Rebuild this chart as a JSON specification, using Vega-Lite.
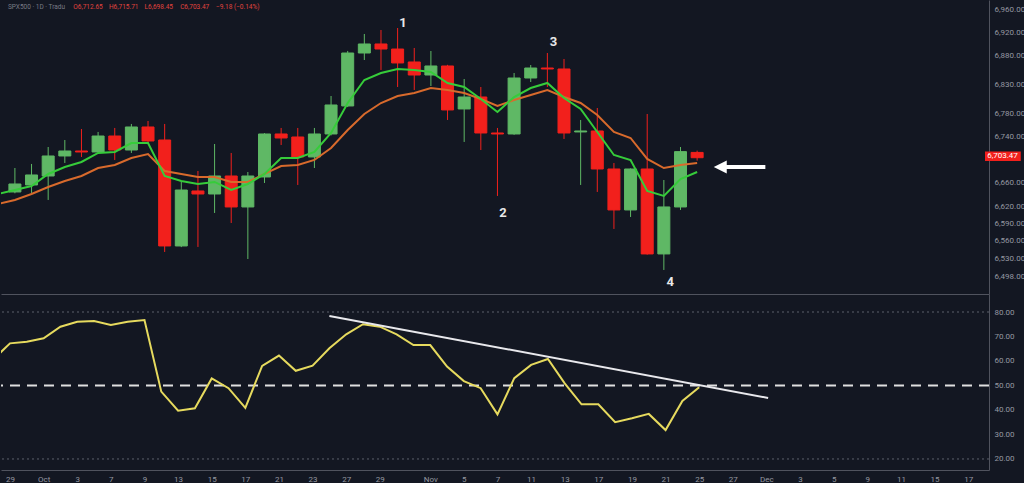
{
  "$schema": "https://vega.github.io/schema/vega-lite/v6.json",
  "background": "#131722",
  "padding": 0,
  "spacing": 0,
  "config": {
    "view": {"stroke": null},
    "axis": {"grid": false, "labelFont": "Roboto", "labelFontSize": 8, "labelColor": "#9598a1", "domainColor": "#50535e", "ticks": false, "labelOverlap": false, "labelFlush": false},
    "text": {"font": "Roboto"}
  },
  "datasets": {
    "bars": [
      {"d": "2025-09-26", "i": -1, "o": null, "h": null, "l": null, "c": null, "f": 6640.8, "s": 6623.5, "r": 60.6},
      {"d": "2025-09-29", "i": 0, "o": 6644.3, "h": 6685.7, "l": 6642.0, "c": 6658.1, "f": 6647.7, "s": 6630.5, "r": 67.2},
      {"d": "2025-09-30", "i": 1, "o": 6656.4, "h": 6692.7, "l": 6642.6, "c": 6673.7, "f": 6654.6, "s": 6640.8, "r": 67.9},
      {"d": "2025-10-01", "i": 2, "o": 6671.9, "h": 6722.0, "l": 6630.5, "c": 6706.5, "f": 6675.4, "s": 6652.9, "r": 69.3},
      {"d": "2025-10-02", "i": 3, "o": 6706.5, "h": 6734.1, "l": 6694.4, "c": 6715.1, "f": 6687.5, "s": 6663.3, "r": 74.0},
      {"d": "2025-10-03", "i": 4, "o": 6715.1, "h": 6753.1, "l": 6704.8, "c": 6713.4, "f": 6696.1, "s": 6671.9, "r": 76.0},
      {"d": "2025-10-06", "i": 5, "o": 6713.4, "h": 6748.0, "l": 6712.0, "c": 6741.0, "f": 6711.7, "s": 6685.7, "r": 76.3},
      {"d": "2025-10-07", "i": 6, "o": 6741.0, "h": 6754.9, "l": 6699.6, "c": 6716.8, "f": 6713.4, "s": 6690.9, "r": 74.7},
      {"d": "2025-10-08", "i": 7, "o": 6716.8, "h": 6761.8, "l": 6711.7, "c": 6756.6, "f": 6728.9, "s": 6703.0, "r": 76.0},
      {"d": "2025-10-09", "i": 8, "o": 6756.6, "h": 6766.9, "l": 6730.0, "c": 6732.4, "f": 6728.9, "s": 6709.9, "r": 76.7},
      {"d": "2025-10-10", "i": 9, "o": 6734.1, "h": 6761.8, "l": 6540.6, "c": 6551.0, "f": 6671.9, "s": 6680.6, "r": 47.5},
      {"d": "2025-10-13", "i": 10, "o": 6551.0, "h": 6661.6, "l": 6549.0, "c": 6647.7, "f": 6663.3, "s": 6675.4, "r": 39.7},
      {"d": "2025-10-14", "i": 11, "o": 6646.0, "h": 6680.6, "l": 6549.3, "c": 6640.8, "f": 6658.1, "s": 6670.2, "r": 40.7},
      {"d": "2025-10-15", "i": 12, "o": 6640.8, "h": 6727.2, "l": 6608.0, "c": 6671.9, "f": 6661.6, "s": 6670.2, "r": 52.9},
      {"d": "2025-10-16", "i": 13, "o": 6671.9, "h": 6711.7, "l": 6590.7, "c": 6618.4, "f": 6647.7, "s": 6661.6, "r": 48.9},
      {"d": "2025-10-17", "i": 14, "o": 6618.4, "h": 6678.8, "l": 6528.5, "c": 6671.9, "f": 6658.1, "s": 6661.6, "r": 40.9},
      {"d": "2025-10-20", "i": 15, "o": 6670.2, "h": 6746.0, "l": 6659.8, "c": 6744.5, "f": 6675.4, "s": 6675.4, "r": 58.0},
      {"d": "2025-10-21", "i": 16, "o": 6744.5, "h": 6754.9, "l": 6725.5, "c": 6737.6, "f": 6703.0, "s": 6689.2, "r": 62.2},
      {"d": "2025-10-22", "i": 17, "o": 6739.3, "h": 6754.9, "l": 6656.4, "c": 6704.8, "f": 6703.0, "s": 6690.9, "r": 56.0},
      {"d": "2025-10-23", "i": 18, "o": 6704.8, "h": 6754.9, "l": 6685.7, "c": 6744.5, "f": 6713.4, "s": 6699.6, "r": 58.1},
      {"d": "2025-10-24", "i": 19, "o": 6744.5, "h": 6810.1, "l": 6742.0, "c": 6794.6, "f": 6746.2, "s": 6720.3, "r": 65.2},
      {"d": "2025-10-27", "i": 20, "o": 6792.9, "h": 6888.0, "l": 6791.0, "c": 6884.4, "f": 6798.0, "s": 6751.4, "r": 70.9},
      {"d": "2025-10-28", "i": 21, "o": 6884.4, "h": 6917.3, "l": 6872.3, "c": 6900.0, "f": 6837.8, "s": 6779.0, "r": 75.0},
      {"d": "2025-10-29", "i": 22, "o": 6900.0, "h": 6924.2, "l": 6855.1, "c": 6891.3, "f": 6849.9, "s": 6798.0, "r": 74.0},
      {"d": "2025-10-30", "i": 23, "o": 6891.3, "h": 6927.6, "l": 6825.7, "c": 6867.2, "f": 6856.8, "s": 6810.1, "r": 70.9},
      {"d": "2025-10-31", "i": 24, "o": 6868.9, "h": 6893.1, "l": 6820.5, "c": 6846.4, "f": 6855.1, "s": 6815.3, "r": 66.5},
      {"d": "2025-11-03", "i": 25, "o": 6846.4, "h": 6887.9, "l": 6827.4, "c": 6862.0, "f": 6851.6, "s": 6823.9, "r": 66.5},
      {"d": "2025-11-04", "i": 26, "o": 6862.0, "h": 6864.0, "l": 6768.7, "c": 6786.0, "f": 6832.6, "s": 6820.5, "r": 57.7},
      {"d": "2025-11-05", "i": 27, "o": 6787.7, "h": 6839.5, "l": 6730.7, "c": 6808.4, "f": 6825.7, "s": 6815.3, "r": 51.8},
      {"d": "2025-11-06", "i": 28, "o": 6808.4, "h": 6825.7, "l": 6716.8, "c": 6746.2, "f": 6805.0, "s": 6805.0, "r": 48.9},
      {"d": "2025-11-07", "i": 29, "o": 6746.2, "h": 6754.9, "l": 6637.4, "c": 6744.5, "f": 6782.5, "s": 6792.9, "r": 38.2},
      {"d": "2025-11-10", "i": 30, "o": 6744.5, "h": 6849.9, "l": 6743.0, "c": 6841.2, "f": 6808.4, "s": 6803.2, "r": 53.0},
      {"d": "2025-11-11", "i": 31, "o": 6841.2, "h": 6863.7, "l": 6834.3, "c": 6858.5, "f": 6823.9, "s": 6811.9, "r": 58.4},
      {"d": "2025-11-12", "i": 32, "o": 6858.5, "h": 6884.4, "l": 6825.7, "c": 6856.8, "f": 6832.6, "s": 6820.5, "r": 60.8},
      {"d": "2025-11-13", "i": 33, "o": 6856.8, "h": 6874.1, "l": 6735.9, "c": 6746.2, "f": 6806.7, "s": 6808.4, "r": 50.9},
      {"d": "2025-11-14", "i": 34, "o": 6748.0, "h": 6768.7, "l": 6656.4, "c": 6749.7, "f": 6787.7, "s": 6798.0, "r": 42.3},
      {"d": "2025-11-17", "i": 35, "o": 6749.7, "h": 6789.4, "l": 6644.3, "c": 6684.0, "f": 6747.9, "s": 6777.3, "r": 42.3},
      {"d": "2025-11-18", "i": 36, "o": 6684.0, "h": 6694.4, "l": 6580.4, "c": 6613.2, "f": 6708.2, "s": 6747.9, "r": 35.0},
      {"d": "2025-11-19", "i": 37, "o": 6613.2, "h": 6685.0, "l": 6601.1, "c": 6684.0, "f": 6699.6, "s": 6737.6, "r": 36.6},
      {"d": "2025-11-20", "i": 38, "o": 6684.0, "h": 6779.0, "l": 6536.0, "c": 6537.2, "f": 6646.0, "s": 6701.3, "r": 38.4},
      {"d": "2025-11-21", "i": 39, "o": 6537.2, "h": 6665.0, "l": 6509.5, "c": 6618.4, "f": 6637.4, "s": 6685.7, "r": 31.8},
      {"d": "2025-11-24", "i": 40, "o": 6618.4, "h": 6722.0, "l": 6613.2, "c": 6714.0, "f": 6666.7, "s": 6690.9, "r": 43.7},
      {"d": "2025-11-25", "i": 41, "o": 6712.65, "h": 6715.71, "l": 6698.45, "c": 6703.47, "f": 6678.8, "s": 6694.4, "r": 49.3}
    ],
    "trend": [{"i": 19, "v": 78.4}, {"i": 45.1, "v": 44.9}],
    "notes": [
      {"i": 23.32, "p": 6936.3, "t": "1"},
      {"i": 29.33, "p": 6608.0, "t": "2"},
      {"i": 32.36, "p": 6903.4, "t": "3"},
      {"i": 39.38, "p": 6488.8, "t": "4"}
    ],
    "ohlc": [
      {"i": 3.51, "p": 6964.0, "t": "O6,712.65"},
      {"i": 5.65, "p": 6964.0, "t": "H6,715.71"},
      {"i": 7.79, "p": 6964.0, "t": "L6,698.45"},
      {"i": 9.93, "p": 6964.0, "t": "C6,703.47"},
      {"i": 12.08, "p": 6964.0, "t": "−9.18 (−0.14%)"}
    ]
  },
  "vconcat": [
    {
      "width": 988,
      "height": 294,
      "layer": [
        {
          "data": {"name": "bars"},
          "mark": {"type": "rule", "strokeWidth": 1},
          "encoding": {
            "x": {"field": "i", "type": "quantitative", "title": null, "scale": {"domain": [-0.535, 58.24], "nice": false, "zero": false}, "axis": {"labels": false, "domain": true, "ticks": false}},
            "y": {"field": "l", "type": "quantitative", "title": null, "scale": {"domain": [6468, 6976], "nice": false, "zero": false}, "axis": {"orient": "right", "values": [6498, 6530, 6560, 6590, 6620, 6660, 6740, 6780, 6830, 6880, 6920, 6960], "tickCount": 100, "format": ",.2f", "labelPadding": 5, "labelOverlap": false, "labelFlush": false, "labelBound": false, "ticks": false}},
            "y2": {"field": "h"},
            "color": {"condition": {"test": "datum.c >= datum.o", "value": "#5fb865"}, "value": "#f2201c"}
          }
        },
        {
          "data": {"name": "bars"},
          "mark": {"type": "bar", "width": 12, "strokeWidth": 1},
          "encoding": {
            "x": {"field": "i", "type": "quantitative", "title": null},
            "y": {"field": "o", "type": "quantitative", "title": null},
            "y2": {"field": "c"},
            "fill": {"condition": {"test": "datum.c >= datum.o", "value": "#5fb865"}, "value": "#f2201c"},
            "stroke": {"condition": {"test": "datum.c >= datum.o", "value": "#5fb865"}, "value": "#f2201c"}
          }
        },
        {
          "data": {"name": "bars"},
          "mark": {"type": "line", "color": "#d86a2c", "strokeWidth": 2, "clip": true},
          "encoding": {
            "x": {"field": "i", "type": "quantitative", "title": null},
            "y": {"field": "s", "type": "quantitative", "title": null}
          }
        },
        {
          "data": {"name": "bars"},
          "mark": {"type": "line", "color": "#36cc3a", "strokeWidth": 2, "clip": true},
          "encoding": {
            "x": {"field": "i", "type": "quantitative", "title": null},
            "y": {"field": "f", "type": "quantitative", "title": null}
          }
        },
        {
          "data": {"name": "notes"},
          "mark": {"type": "text", "color": "#e8e8e8", "fontSize": 13, "fontWeight": "bold"},
          "encoding": {
            "x": {"field": "i", "type": "quantitative", "title": null},
            "y": {"field": "p", "type": "quantitative", "title": null},
            "text": {"field": "t"}
          }
        },
        {
          "data": {"values": [{"i": 42.39, "i2": 45.1, "p": 6687.5}]},
          "mark": {"type": "rule", "color": "#ffffff", "strokeWidth": 4},
          "encoding": {
            "x": {"field": "i", "type": "quantitative", "title": null},
            "x2": {"field": "i2"},
            "y": {"field": "p", "type": "quantitative", "title": null}
          }
        },
        {
          "data": {"values": [{"i": 42.39, "p": 6687.5}]},
          "mark": {"type": "point", "shape": "M-1,0L1,-1L1,1Z", "filled": true, "color": "#ffffff", "opacity": 1, "size": 169},
          "encoding": {
            "x": {"field": "i", "type": "quantitative", "title": null},
            "y": {"field": "p", "type": "quantitative", "title": null}
          }
        },
        {
          "data": {"values": [{"i": -0.416, "p": 6964.0, "t": "SPX500 · 1D · Tradu"}]},
          "mark": {"type": "text", "align": "left", "fontSize": 6.5, "color": "#787b86"},
          "encoding": {
            "x": {"field": "i", "type": "quantitative", "title": null},
            "y": {"field": "p", "type": "quantitative", "title": null},
            "text": {"field": "t"}
          }
        },
        {
          "data": {"name": "ohlc"},
          "mark": {"type": "text", "align": "left", "fontSize": 6.5, "color": "#e0433e"},
          "encoding": {
            "x": {"field": "i", "type": "quantitative", "title": null},
            "y": {"field": "p", "type": "quantitative", "title": null},
            "text": {"field": "t"}
          }
        },
        {
          "data": {"values": [{"i": 58.3, "i2": 60.45, "p": 6714.3, "p2": 6697.8}]},
          "mark": {"type": "rect", "color": "#f2201c"},
          "encoding": {
            "x": {"field": "i", "type": "quantitative", "title": null},
            "x2": {"field": "i2"},
            "y": {"field": "p", "type": "quantitative", "title": null},
            "y2": {"field": "p2"}
          }
        },
        {
          "data": {"values": [{"i": 59.35, "p": 6706.0, "t": "6,703.47"}]},
          "mark": {"type": "text", "align": "center", "fontSize": 8, "color": "#ffffff"},
          "encoding": {
            "x": {"field": "i", "type": "quantitative", "title": null},
            "y": {"field": "p", "type": "quantitative", "title": null},
            "text": {"field": "t"}
          }
        }
      ]
    },
    {
      "width": 988,
      "height": 176,
      "layer": [
        {
          "data": {"values": [{"v": 80}, {"v": 20}]},
          "mark": {"type": "rule", "color": "#5d606b", "strokeDash": [2, 3], "strokeWidth": 1},
          "encoding": {
            "y": {"field": "v", "type": "quantitative", "title": null, "scale": {"domain": [15.5, 87.35], "nice": false, "zero": false}, "axis": {"orient": "right", "values": [20, 30, 40, 50, 60, 70, 80], "tickCount": 100, "format": ".2f", "labelPadding": 5, "labelOverlap": false, "labelFlush": false, "labelBound": false, "ticks": false}}
          }
        },
        {
          "data": {"values": [{"v": 50}]},
          "mark": {"type": "rule", "color": "#e0e0e0", "strokeDash": [10, 7], "strokeWidth": 2},
          "encoding": {
            "y": {"field": "v", "type": "quantitative", "title": null}
          }
        },
        {
          "data": {"name": "bars"},
          "mark": {"type": "line", "color": "#e6da5e", "strokeWidth": 2, "clip": true},
          "encoding": {
            "x": {"field": "i", "type": "quantitative", "title": null, "scale": {"domain": [-0.535, 58.24], "nice": false, "zero": false}, "axis": {"values": [0, 2, 4, 6, 8, 10, 12, 14, 16, 18, 20, 22, 25, 27, 29, 31, 33, 35, 37, 39, 41, 43, 45, 47, 49, 51, 53, 55, 57], "tickCount": 100, "labelExpr": "['29','','Oct','','3','','7','','9','','13','','15','','17','','21','','23','','27','','29','','','Nov','','5','','7','','11','','13','','17','','19','','21','','25','','27','','Dec','','3','','5','','9','','11','','15','','17'][datum.value]", "labelPadding": 5, "labelOverlap": false, "labelFlush": false, "labelBound": false, "ticks": false}},
            "y": {"field": "r", "type": "quantitative", "title": null}
          }
        },
        {
          "data": {"name": "trend"},
          "mark": {"type": "line", "color": "#e8e8ec", "strokeWidth": 2},
          "encoding": {
            "x": {"field": "i", "type": "quantitative", "title": null},
            "y": {"field": "v", "type": "quantitative", "title": null}
          }
        }
      ]
    }
  ]
}
